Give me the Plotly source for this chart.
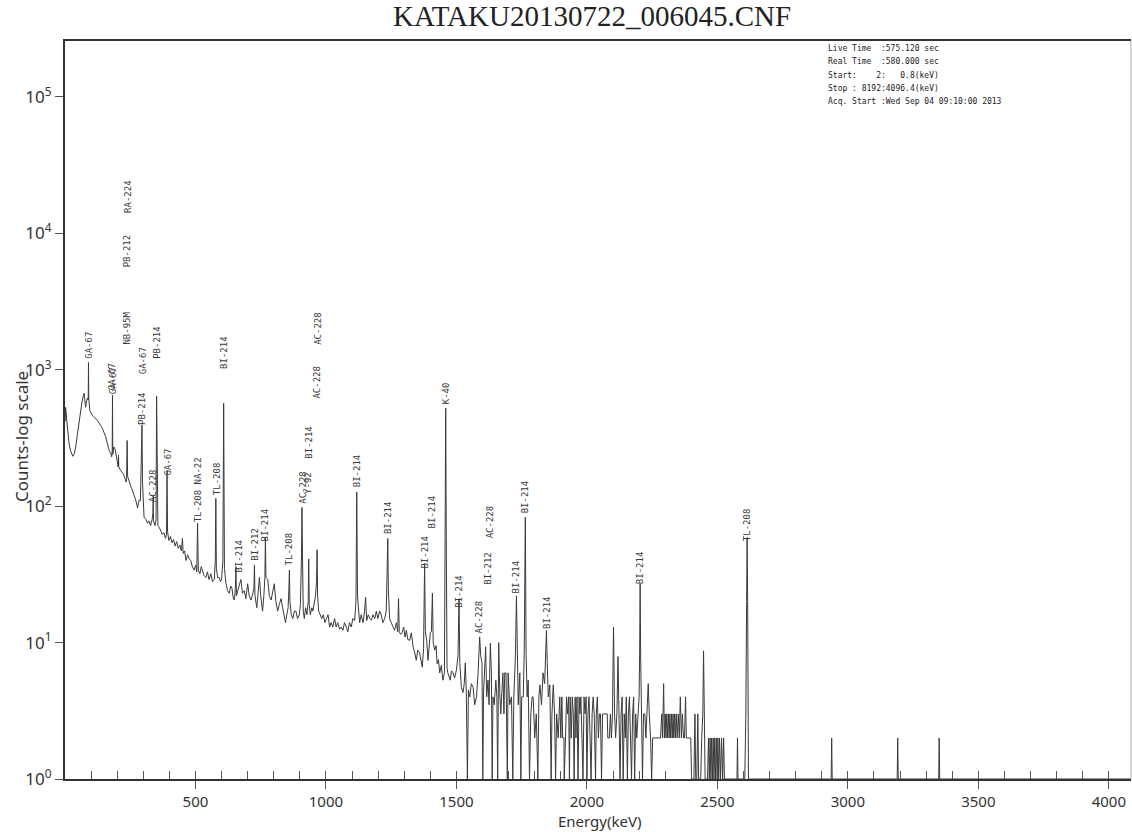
import plotly.graph_objects as go

# Gamma spectrum drawn as (energy keV, counts) vertices, split by energy band
low_band = [
    (1, 420), (2, 530), (4, 500), (8, 400), (12, 330), (16, 285), (21, 255), (26, 238),
    (30, 232), (35, 240), (41, 272), (47, 330), (54, 427), (60, 520), (65, 580), (70, 640),
    (73, 673), (76, 600), (79, 531), (82, 580), (86, 620), (89, 600), (90, 1130), (91, 620),
    (95, 503), (100, 480), (105, 464), (114, 445), (124, 426), (133, 400), (143, 373),
    (150, 345), (156, 322), (163, 285), (169, 257), (175, 244), (179, 230), (181, 260),
    (182, 650), (183, 240), (187, 272), (192, 262), (197, 230), (201, 205), (204, 194),
    (205, 237), (206, 194), (212, 184), (218, 178), (224, 172), (230, 160), (234, 150),
    (236, 160), (238, 303), (240, 165), (246, 150), (252, 140), (258, 131), (264, 122),
    (271, 111), (278, 97), (284, 111), (289, 110), (293, 200), (295, 393), (297, 150),
    (300, 110), (303, 83), (310, 80), (316, 75), (322, 78), (328, 72), (334, 80), (337, 90),
    (338, 120), (339, 78), (345, 72), (349, 80), (351, 640), (353, 110), (356, 72), (361, 70),
    (367, 66), (373, 62), (379, 64), (385, 58), (389, 62), (391, 183), (393, 65), (398, 56),
]

mid_band = [
    (404, 60), (410, 54), (416, 57), (422, 51), (428, 55), (434, 49), (440, 52), (446, 47),
    (450, 58), (453, 45), (458, 47), (464, 40), (470, 44), (476, 41), (482, 40), (488, 36),
    (495, 34), (501, 37), (505, 33), (508, 75), (511, 34), (517, 32), (522, 36), (527, 34),
    (533, 31), (540, 30), (546, 33), (552, 29), (559, 32), (565, 28), (572, 29), (576, 40),
    (578, 114), (580, 35), (585, 30), (591, 30), (596, 28), (600, 29), (605, 40), (608, 568),
    (611, 35), (617, 27), (623, 24), (630, 23), (635, 26), (640, 25), (645, 21), (649, 20.5),
    (653, 25), (655, 36), (657, 22), (662, 24), (668, 26), (674, 29), (680, 23), (687, 24),
    (693, 21), (700, 27), (706, 22), (713, 20.5), (720, 23), (724, 25), (726, 37), (728, 22),
    (735, 18), (740, 24), (745, 30), (750, 22), (757, 17), (762, 22), (766, 30), (768, 59),
    (770, 30), (777, 29), (783, 22), (790, 20.5), (796, 24), (802, 27), (808, 20), (815, 17),
    (821, 19), (828, 21), (834, 18), (840, 16), (845, 14), (850, 16), (855, 18), (858, 25),
    (860, 34), (862, 20), (867, 16), (873, 15), (879, 17), (885, 17), (891, 15), (898, 16),
    (902, 19), (906, 40), (908, 98), (910, 45), (913, 17), (917, 15), (922, 18), (927, 16),
    (932, 20), (934, 41), (936, 19), (940, 16), (946, 18), (950, 17), (955, 20), (960, 22),
    (964, 28), (966, 48), (968, 22), (972, 17), (978, 16), (984, 15), (990, 16), (996, 14),
    (1002, 15), (1008, 16), (1014, 13), (1020, 14), (1026, 13), (1033, 15), (1039, 13),
    (1045, 14), (1052, 12.5), (1058, 13), (1065, 12.3), (1071, 14), (1078, 13), (1084, 12),
    (1090, 14), (1097, 13), (1103, 15), (1110, 14.5), (1115, 20), (1118, 127), (1121, 22),
    (1126, 15), (1129, 14), (1135, 16), (1142, 14), (1148, 17), (1152, 21.5), (1156, 14.5),
    (1162, 16), (1168, 15), (1174, 14.6), (1180, 16), (1187, 15), (1193, 17), (1199, 15),
    (1206, 17), (1212, 16), (1218, 14), (1225, 15), (1231, 17), (1235, 30), (1237, 58),
    (1239, 25), (1244, 15), (1250, 14), (1256, 13), (1263, 12.3), (1270, 14), (1275, 12),
    (1278, 21), (1281, 12), (1286, 11.5), (1292, 11.8), (1298, 13), (1303, 11), (1308, 12.3),
    (1314, 10.5), (1321, 10.4), (1327, 11.8), (1334, 9.3), (1340, 8.5), (1346, 7.4),
    (1352, 8.8), (1359, 8.4), (1364, 7.5), (1369, 6.6), (1374, 9), (1378, 38), (1381, 12),
    (1386, 10.4), (1391, 7.4), (1396, 9), (1400, 11.8), (1404, 12), (1408, 23), (1411, 10),
    (1417, 8.8), (1422, 9.5), (1426, 7), (1431, 7.5), (1436, 6), (1442, 6.8), (1448, 5.3),
    (1454, 6), (1457, 80), (1459, 523), (1461, 60), (1464, 6.5), (1467, 6), (1472, 5.6),
    (1476, 5.3), (1481, 6.2), (1487, 6), (1493, 5.5), (1500, 6.3),
]

high_band = [
    (1506, 8), (1510, 21), (1513, 7), (1519, 4.7), (1525, 4.3), (1530, 5), (1534, 7.1),
    (1538, 4.2), (1542, 1), (1546, 4.5), (1551, 4), (1557, 5), (1564, 4.7), (1570, 3.5),
    (1577, 4), (1583, 6), (1589, 11), (1593, 8), (1598, 7.1), (1601, 1), (1604, 4.3),
    (1608, 6), (1612, 9.3), (1616, 4), (1621, 5.3), (1625, 3.5), (1630, 9.9), (1634, 6),
    (1637, 1), (1640, 4), (1645, 3.5), (1651, 5.3), (1655, 4), (1658, 1), (1662, 10),
    (1666, 4.3), (1670, 3), (1674, 4.3), (1678, 6), (1682, 3), (1685, 6), (1690, 6),
    (1695, 1), (1698, 6), (1704, 3.5), (1711, 4), (1716, 1), (1720, 4), (1726, 8),
    (1730, 22), (1733, 7), (1737, 3.5), (1743, 6), (1747, 1), (1750, 4), (1756, 4),
    (1760, 9), (1764, 83), (1767, 8), (1771, 4), (1775, 5.3), (1780, 1), (1785, 3),
    (1790, 4), (1794, 4), (1800, 2), (1806, 3), (1812, 1), (1816, 4), (1820, 4.9),
    (1826, 3.5), (1832, 6), (1838, 5), (1842, 8), (1845, 12.3), (1848, 7), (1852, 4),
    (1858, 4.9), (1863, 1), (1866, 3), (1871, 4.9), (1876, 3), (1880, 1), (1884, 3),
    (1890, 2), (1896, 4),
]

tail_band = [
    (1900, 2), (1904, 4), (1907, 2), (1912, 2), (1913, 1), (1918, 2), (1922, 4), (1926, 3),
    (1930, 4), (1933, 1), (1936, 4), (1940, 2), (1944, 4), (1948, 3), (1951, 1), (1955, 4),
    (1958, 2), (1962, 4), (1966, 1), (1970, 4), (1973, 3), (1977, 4), (1981, 2), (1985, 1),
    (1989, 4), (1993, 3), (1997, 4), (2000, 1), (2004, 3), (2008, 4), (2012, 2), (2016, 1),
    (2020, 3), (2024, 4), (2028, 3), (2033, 1), (2036, 3), (2040, 4), (2044, 2), (2048, 3),
    (2052, 3), (2056, 1), (2060, 3), (2066, 3), (2072, 3), (2078, 3), (2080, 2), (2086, 2),
    (2090, 3), (2094, 2), (2098, 3), (2102, 13), (2106, 3), (2110, 2), (2115, 3), (2119, 7.9),
    (2123, 3), (2127, 1), (2131, 3), (2135, 4), (2139, 1), (2143, 3), (2147, 2), (2151, 4),
    (2155, 1), (2159, 3), (2163, 4), (2167, 2), (2171, 1), (2175, 3), (2179, 4), (2183, 1),
    (2187, 3), (2191, 2), (2196, 3), (2200, 4), (2202, 8), (2204, 27), (2206, 8), (2209, 3),
    (2213, 1), (2217, 3), (2222, 3), (2226, 2), (2231, 3), (2235, 5), (2239, 3), (2244, 2),
    (2248, 1), (2252, 2), (2258, 2), (2264, 2), (2270, 2), (2276, 2), (2282, 2), (2287, 3),
    (2290, 2), (2294, 5), (2297, 2), (2300, 3), (2303, 2), (2306, 3), (2309, 2), (2312, 3),
    (2315, 2), (2318, 3), (2321, 2), (2324, 3), (2327, 2), (2330, 3), (2333, 2), (2336, 3),
    (2339, 2), (2342, 3), (2346, 2), (2350, 3), (2354, 2), (2358, 4), (2362, 2), (2366, 3),
    (2370, 2), (2374, 2), (2378, 4), (2381, 2), (2386, 2), (2392, 2), (2398, 2), (2401, 1),
    (2406, 1), (2410, 1), (2414, 3), (2417, 1), (2421, 1), (2425, 3), (2428, 1), (2436, 1),
    (2440, 2), (2444, 3), (2447, 8.7), (2450, 3), (2453, 1), (2458, 1), (2462, 1), (2466, 2),
    (2469, 1), (2472, 2), (2475, 1), (2478, 2), (2481, 1), (2484, 2), (2487, 1), (2490, 2),
    (2493, 1), (2496, 2), (2499, 1), (2502, 2), (2505, 1), (2508, 2), (2512, 1), (2516, 2),
    (2520, 1), (2524, 2), (2527, 1), (2560, 1), (2575, 1), (2577, 2), (2579, 1), (2605, 1),
    (2609, 3), (2612, 20), (2614, 59), (2616, 20), (2619, 1), (2936, 1), (2938, 2), (2940, 1),
    (3189, 1), (3191, 2), (3193, 1), (3348, 1), (3350, 2), (3352, 1), (4090, 1),
]

# Nuclide identifications: energy (keV), name, vertical centre of the label (px from page top)
peak_energy = [91, 181, 185, 236, 241, 239, 295, 300, 338, 352, 393, 511, 583, 609, 665,
               727, 768, 860, 911, 931, 934, 964, 969, 1120, 1238, 1378, 1408, 1461, 1509,
               1588, 1620, 1630, 1730, 1764, 1847, 2204, 2614]
peak_name = ["GA-67", "GA-67", "GA-67", "NB-95M", "RA-224", "PB-212", "PB-214", "GA-67",
             "AC-228", "PB-214", "GA-67", "TL-208 NA-22", "TL-208", "BI-214", "BI-214",
             "BI-212", "BI-214", "TL-208", "AC-228", "Y-92", "BI-214", "AC-228", "AC-228",
             "BI-214", "BI-214", "BI-214", "BI-214", "K-40", "BI-214", "AC-228", "BI-212",
             "AC-228", "BI-214", "BI-214", "BI-214", "BI-214", "TL-208"]
peak_label_px = [345, 377, 381, 328, 196, 251, 408, 361, 486, 342, 462, 490, 479, 352, 556,
                 544, 525, 549, 487, 483, 442, 382, 328, 471, 518, 552, 512, 393, 591,
                 617, 568, 522, 577, 497, 612, 568, 525]

info_lines = [
    "Live Time  :575.120 sec",
    "Real Time  :580.000 sec",
    "Start:    2:   0.8(keV)",
    "Stop : 8192:4096.4(keV)",
    "Acq. Start :Wed Sep 04 09:10:00 2013",
]

x_ticks = [500, 1000, 1500, 2000, 2500, 3000, 3500, 4000]
y_ticks = [1, 10, 100, 1000, 10000, 100000]
y_tick_text = ["10<sup>%d</sup>" % i for i in range(6)]

bands = low_band + mid_band + high_band + tail_band
energy_kev = [e for e, _ in bands]
counts = [c for _, c in bands]

W, H = 1132, 832
ML, MR, MT, MB = 65, 1, 41, 53
PLOT_W = W - ML - MR
PLOT_H = H - MT - MB


def px_to_paper_y(py):
    return (H - MB - py) / PLOT_H


def px_to_paper_x(px):
    return (px - ML) / PLOT_W


ink = "#333333"

fig = go.Figure()
fig.add_trace(go.Scatter(
    x=energy_kev, y=counts, mode="lines",
    line=dict(color="#3a3a3a", width=1),
    hoverinfo="skip", showlegend=False,
))
# empty companion trace so the overlaid minor-tick axis is drawn
fig.add_trace(go.Scatter(x=[None], y=[None], xaxis="x2", yaxis="y",
                         showlegend=False, hoverinfo="skip"))

annotations = []
for e, name, py in zip(peak_energy, peak_name, peak_label_px):
    annotations.append(dict(
        x=e, xref="x", xanchor="center",
        y=px_to_paper_y(py), yref="paper", yanchor="middle",
        text=name, textangle=-90, showarrow=False,
        font=dict(family="DejaVu Sans Mono", size=9, color="#3a3a3a"),
    ))

for i, line in enumerate(info_lines):
    annotations.append(dict(
        x=px_to_paper_x(826), xref="paper", xanchor="left",
        y=px_to_paper_y(48 + i * 13.5), yref="paper", yanchor="middle",
        text=line.replace(" ", "\u00a0"), showarrow=False,
        font=dict(family="DejaVu Sans Mono", size=8, color="#222222"),
    ))

annotations.append(dict(
    x=px_to_paper_x(592), xref="paper", xanchor="center",
    y=px_to_paper_y(16), yref="paper", yanchor="middle",
    text="KATAKU20130722_006045.CNF", showarrow=False,
    font=dict(family="Liberation Serif", size=29, color="#222222"),
))
annotations.append(dict(
    x=px_to_paper_x(21), xref="paper", xanchor="center",
    y=px_to_paper_y(437), yref="paper", yanchor="middle",
    text="Counts-log scale", textangle=-90, showarrow=False,
    font=dict(family="Noto Sans", size=17, color=ink),
))
annotations.append(dict(
    x=px_to_paper_x(599), xref="paper", xanchor="center",
    y=px_to_paper_y(821), yref="paper", yanchor="middle",
    text="Energy(keV)", showarrow=False,
    font=dict(family="Noto Sans", size=15, color=ink),
))

fig.update_layout(
    width=W, height=H,
    margin=dict(l=ML, r=MR, t=MT, b=MB, pad=0),
    paper_bgcolor="white", plot_bgcolor="white",
    showlegend=False,
    xaxis=dict(
        range=[0, 4085], tickvals=x_ticks, ticks="outside", ticklen=8, tickwidth=1,
        tickcolor="#555555", showline=True, linewidth=2, linecolor=ink, mirror=True,
        showgrid=False, zeroline=False,
        tickfont=dict(family="Noto Sans", size=15, color=ink),
    ),
    xaxis2=dict(
        range=[0, 4085], overlaying="x", anchor="y", side="bottom",
        tickvals=list(range(100, 4001, 100)), ticks="inside", ticklen=8, tickwidth=1,
        tickcolor="#555555", showticklabels=False, showline=False,
        showgrid=False, zeroline=False,
    ),
    yaxis=dict(
        type="log", range=[0, 5.41], tickvals=y_ticks, ticktext=y_tick_text,
        ticks="outside", ticklen=8, tickwidth=1, tickcolor="#555555",
        showline=True, linewidth=2, linecolor=ink, showgrid=False, zeroline=False,
        tickfont=dict(family="Noto Sans", size=17, color=ink),
    ),
    annotations=annotations,
    shapes=[dict(type="line", xref="paper", yref="paper", x0=1, x1=1, y0=0, y1=1,
                 line=dict(color="#aaaaaa", width=1))],
)

fig.write_html("out.html", config={"displayModeBar": False})
